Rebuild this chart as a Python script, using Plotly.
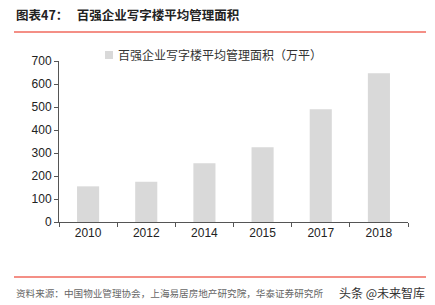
import plotly.graph_objects as go

years = ["2010", "2012", "2014", "2015", "2017", "2018"]
area = [155, 175, 255, 325, 490, 647]
series_name = "百强企业写字楼平均管理面积（万平）"
title_text = "图表47：   百强企业写字楼平均管理面积"
source_text = "资料来源：中国物业管理协会，上海易居房地产研究院，华泰证券研究所"
watermark = "头条 @未来智库"

W, H = 435, 305
L, R, T, B = 59, 27, 61, 83
pw, ph = W - L - R, H - T - B

def px(x):
    return (x - L) / pw

def py(y):
    return (H - B - y) / ph

bar_color = "#d9d9d9"
fig = go.Figure()
fig.add_trace(go.Bar(x=years, y=area, name=series_name,
                     marker=dict(color=bar_color, line=dict(width=0)),
                     width=0.38, showlegend=False))

cjk = "Noto Sans CJK SC"
fig.update_layout(
    width=W, height=H,
    margin=dict(l=L, r=R, t=T, b=B),
    paper_bgcolor="white", plot_bgcolor="white",
    xaxis=dict(type="category", showline=True, linecolor="#555555", linewidth=1,
               ticks="outside", tickson="boundaries", ticklen=4, tickcolor="#555555",
               tickfont=dict(family="Liberation Sans, Arial", size=12, color="#222222"),
               showgrid=False, zeroline=False),
    yaxis=dict(range=[0, 700], dtick=100, showline=True, linecolor="#555555", linewidth=1,
               ticks="outside", ticklen=4, tickcolor="#555555",
               tickfont=dict(family="Liberation Sans, Arial", size=12, color="#222222"),
               showgrid=False, zeroline=False),
    shapes=[
        dict(type="line", xref="paper", yref="paper", x0=px(14), x1=px(426),
             y0=py(32), y1=py(32), line=dict(color="#f06a5e", width=1.5)),
        dict(type="line", xref="paper", yref="paper", x0=px(14), x1=px(426),
             y0=py(277), y1=py(277), line=dict(color="#f06a5e", width=1.5)),
        dict(type="rect", xref="paper", yref="paper", x0=px(105), x1=px(113),
             y0=py(51), y1=py(59), fillcolor=bar_color, line=dict(width=0)),
    ],
    annotations=[
        dict(text="<b>" + title_text + "</b>", xref="paper", yref="paper",
             x=px(14), y=py(14), xanchor="left", yanchor="middle", showarrow=False,
             font=dict(family=cjk, size=12.5, color="#222222")),
        dict(text=series_name, xref="paper", yref="paper",
             x=px(116), y=py(55), xanchor="left", yanchor="middle", showarrow=False,
             font=dict(family=cjk, size=12, color="#333333")),
        dict(text=source_text, xref="paper", yref="paper",
             x=px(14), y=py(293), xanchor="left", yanchor="middle", showarrow=False,
             font=dict(family=cjk, size=9.6, color="#666666")),
        dict(text=watermark, xref="paper", yref="paper",
             x=px(427), y=py(292), xanchor="right", yanchor="middle", showarrow=False,
             font=dict(family=cjk, size=12, color="#333333")),
    ],
)

fig.write_html("out.html")
